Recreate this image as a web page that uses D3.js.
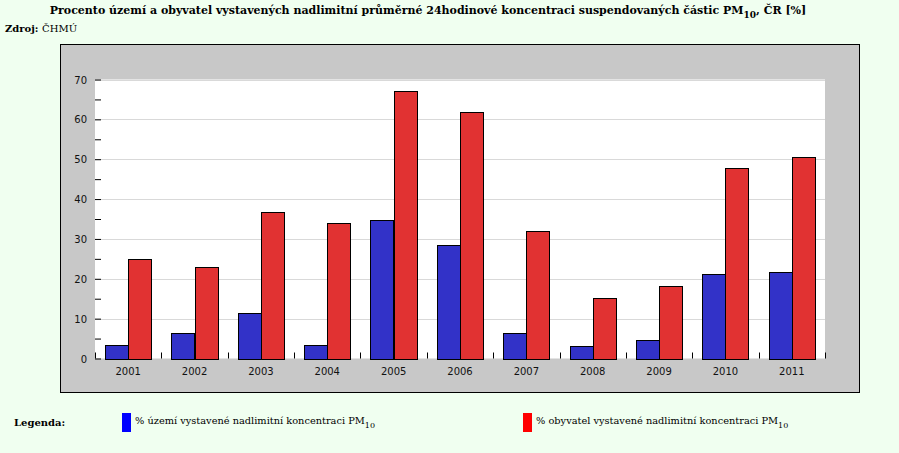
<!DOCTYPE html>
<html><head><meta charset="utf-8">
<script src="https://cdn.jsdelivr.net/npm/d3@7"></script>
<style>
html,body{margin:0;padding:0;background:#f0fff0;}
svg{display:block;}
</style></head>
<body>
<svg id="c" width="899" height="453"></svg>
<script>
const years = ["2001","2002","2003","2004","2005","2006","2007","2008","2009","2010","2011"];
const uzemi = [3.5, 6.5, 11.5, 3.5, 34.8, 28.6, 6.3, 3.1, 4.6, 21.3, 21.8];
const obyvatel = [25, 23, 36.8, 34.1, 67, 61.9, 32.1, 15.1, 18.1, 47.9, 50.6];
const yTicks = [0,10,20,30,40,50,60,70];
const seriesNames = ["% území vystavené nadlimitní koncentraci PM", "% obyvatel vystavené nadlimitní koncentraci PM"];

const svg = d3.select("#c");
const serif = "'DejaVu Serif', serif";
const sans = "'DejaVu Sans', sans-serif";

// title
const title = svg.append("text").attr("x", 428).attr("y", 14).attr("text-anchor","middle")
  .attr("font-family", serif).attr("font-weight","bold").attr("font-size", 11).attr("fill","#000");
title.append("tspan").text("Procento území a obyvatel vystavených nadlimitní průměrné 24hodinové koncentraci suspendovaných částic PM");
title.append("tspan").attr("dy", 4).attr("font-size", 9).text("10");
title.append("tspan").attr("dy", -4).text(", ČR [%]");

const src = svg.append("text").attr("x", 5).attr("y", 32).attr("font-family", serif).attr("font-size", 10).attr("fill","#000");
src.append("tspan").attr("font-weight","bold").text("Zdroj: ");
src.append("tspan").text("ČHMÚ");

// frame
svg.append("rect").attr("x", 60.5).attr("y", 44.5).attr("width", 799).attr("height", 348)
  .attr("fill", "#c8c8c8").attr("stroke", "#000").attr("stroke-width", 1);

const L = 95, R = 825, T = 79.5, B = 358.5;
svg.append("rect").attr("x", L).attr("y", T).attr("width", R-L).attr("height", B-T).attr("fill","#fff");

const x = d3.scaleBand().domain(years).range([L, R]).paddingInner(0).paddingOuter(0);
const y = d3.scaleLinear().domain([0,70]).range([B, T]);
const inner = d3.scaleBand().domain([0,1]).range([0, x.bandwidth()]).paddingOuter(0.43).paddingInner(0);

// gridlines
svg.append("g").selectAll("line").data(yTicks.filter(d=>d>0)).join("line")
  .attr("x1", L).attr("x2", R).attr("y1", d=>Math.round(y(d))+0.5).attr("y2", d=>Math.round(y(d))+0.5)
  .attr("stroke", "#d9d9d9").attr("stroke-width", 1);

// y axis
const yAxis = d3.axisRight(y).tickValues(d3.range(0, 71, 5)).tickSize(6).tickFormat("");
const gy = svg.append("g").attr("transform", `translate(${L},0)`).call(yAxis);
gy.select(".domain").remove();
gy.selectAll(".tick line").attr("stroke","#000");
svg.append("g").selectAll("text").data(yTicks).join("text")
  .attr("x", 87).attr("y", d=>y(d)+4).attr("text-anchor","end")
  .attr("font-family", sans).attr("font-size", 10).attr("fill","#111").text(d=>d);

// bars
const colors = ["#3232c8", "#e13232"];
const g = svg.append("g");
years.forEach((yr, i) => {
  [uzemi[i], obyvatel[i]].forEach((v, s) => {
    const x0 = x(yr) + inner(s);
    g.append("rect").attr("x", Math.round(x0)+0.5).attr("y", Math.round(y(v))+0.5)
      .attr("width", Math.round(inner.bandwidth())).attr("height", Math.round(y(0)) - Math.round(y(v)))
      .attr("fill", colors[s]).attr("stroke", "#000").attr("stroke-width", 1);
  });
});

// x axis ticks at boundaries
const bounds = years.map(d=>x(d)).concat([R]);
svg.append("g").selectAll("line").data(bounds).join("line")
  .attr("x1", d=>Math.round(d)+0.5).attr("x2", d=>Math.round(d)+0.5)
  .attr("y1", B).attr("y2", B-6).attr("stroke","#000");
svg.append("g").selectAll("text").data(years).join("text")
  .attr("x", d=>x(d)+x.bandwidth()/2).attr("y", 375).attr("text-anchor","middle")
  .attr("font-family", sans).attr("font-size", 10).attr("fill","#111").text(d=>d);

// legend
svg.append("text").attr("x", 14).attr("y", 426).attr("font-family", serif).attr("font-weight","bold")
  .attr("font-size", 10).attr("fill","#000").text("Legenda:");
const legX = [122, 523];
const legC = ["#0000ff", "#ff0000"];
seriesNames.forEach((n, i) => {
  svg.append("rect").attr("x", legX[i]).attr("y", 413).attr("width", 9).attr("height", 19).attr("fill", legC[i]);
  const t = svg.append("text").attr("x", legX[i]+13).attr("y", 424).attr("font-family", serif)
    .attr("font-size", 9.8).attr("fill","#000");
  t.append("tspan").text(n);
  t.append("tspan").attr("dy", 4).attr("font-size", 8).text("10");
});
</script>
</body></html>
